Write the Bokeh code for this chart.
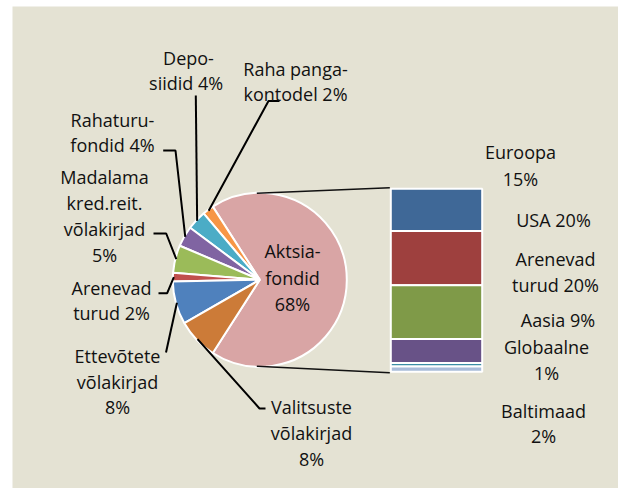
import math
from bokeh.plotting import figure
from bokeh.models import Range1d, ColumnDataSource
from bokeh.core.properties import value
from bokeh.embed import file_html
from bokeh.resources import INLINE

# ---------------- data ----------------
pie_categories = ["Aktsiafondid", "Raha pangakontodel", "Deposiidid", "Rahaturufondid",
                  "Madalama kred.reit. võlakirjad", "Arenevad turud",
                  "Ettevõtete võlakirjad", "Valitsuste võlakirjad"]
pie_values = [68.1, 2.1, 3.6, 3.8, 5.1, 1.6, 8.0, 7.6]
pie_label_lines = [["Aktsia-", "fondid", "68%"],
                   ["Raha panga-", "kontodel 2%"],
                   ["Depo-", "siidid  4%"],
                   ["Rahaturu-", "fondid 4%"],
                   ["Madalama", "kred.reit.", "võlakirjad", "5%"],
                   ["Arenevad", "turud 2%"],
                   ["Ettevõtete", "võlakirjad", "8%"],
                   ["Valitsuste", "võlakirjad", "8%"]]

bar_categories = ["Euroopa", "USA", "Arenevad turud", "Aasia", "Globaalne", "Baltimaad"]
bar_values = [15.4, 19.8, 19.6, 8.8, 1.3, 1.9]
bar_label_lines = [["Euroopa", "15%"], ["USA 20%"], ["Arenevad", "turud 20%"],
                   ["Aasia 9%"], ["Globaalne", "1%"], ["Baltimaad", "2%"]]

# ---------------- styles / layout ----------------
pie_colors = ["#D9A5A5", "#F79646", "#4BACC6", "#8064A2", "#9BBB59", "#C0504D", "#4F81BD", "#CC7B38"]
bar_colors = ["#3F6897", "#9E403E", "#7F9A48", "#685287", "#3B8EA5", "#A9BCD9"]
PANEL = "#E4E2D3"
FONT = value("Open Sans")
FS = "18px"

W, H = 618, 488
def Y(py):  # screen-like y (down) to data y (up)
    return H - py

CX, CYP, R = 259.3, 279.3, 87.0
BAR_L, BAR_R, BAR_T, BAR_B = 389.3, 482.7, 187.3, 372.3

# label positions: (center x, first line center y, line step) in screen px
pie_label_pos = [(292, 250.5, 26.5), (295, 68, 25), (188, 57, 25), (112, 119.5, 25.2),
                 (104, 176.7, 25.8), (111, 287.3, 25.4), (117, 355.5, 25.5), (311, 406, 26)]
bar_label_pos = [(520, 151.7, 26.6), (553, 219.3, 26), (555, 258.3, 26.2),
                 (557.5, 319.7, 26), (546, 346.3, 25.8), (543, 410.3, 25.2)]
# leader-line label-side points (screen px), index matches pie slices (None = no leader)
leader_pts = [None,
              [(279, 100.5), (268, 100.5)],
              [(195.3, 95)],
              [(162.7, 150), (175, 150)],
              [(153, 233), (165.7, 233)],
              [(158, 292.7), (166.7, 292.7)],
              [(165.5, 352)],
              [(265, 408), (259, 408)]]

p = figure(width=W, height=H, x_range=Range1d(0, W), y_range=Range1d(0, H),
           output_backend="svg", toolbar_location=None, min_border=0)
p.axis.visible = False
p.grid.visible = False
p.outline_line_color = None
p.background_fill_color = "white"
p.border_fill_color = "white"

# panel
p.quad(left=[12], right=[W], top=[Y(6)], bottom=[0], fill_color=PANEL, line_color=None)

# ---------------- pie ----------------
total = sum(pie_values)
angs = [v / total * 2 * math.pi for v in pie_values]
starts, ends, mids = [], [], []
a = -angs[0] / 2
for ang in angs:
    starts.append(a)
    ends.append(a + ang)
    mids.append(a + ang / 2)
    a += ang
p.wedge(x=CX, y=Y(CYP), radius=R, start_angle=starts, end_angle=ends, direction="anticlock",
        fill_color=pie_colors, line_color="white", line_width=2)

# ---------------- bar of pie ----------------
btotal = sum(bar_values)
scale = (BAR_B - BAR_T - 2) / btotal
tops, bots = [], []
cur = BAR_T + 1
for v in bar_values:
    tops.append(Y(cur))
    cur += v * scale
    bots.append(Y(cur))
p.quad(left=BAR_L + 1, right=BAR_R - 1, top=tops, bottom=bots, fill_color=bar_colors,
       line_color="white", line_width=2)

# connector lines between pie and bar
p.multi_line(xs=[[CX - 3, BAR_L], [CX - 3, BAR_L]],
             ys=[[Y(CYP - R + 0.5), Y(BAR_T)], [Y(CYP + R - 0.5), Y(BAR_B)]],
             line_color="#111111", line_width=1.6)

# leader lines
lxs, lys = [], []
for i, pts in enumerate(leader_pts):
    if pts is None:
        continue
    ex = CX + (R - 1) * math.cos(mids[i])
    ey = Y(CYP) + (R - 1) * math.sin(mids[i])
    lxs.append([q[0] for q in pts] + [ex])
    lys.append([Y(q[1]) for q in pts] + [ey])
p.multi_line(xs=lxs, ys=lys, line_color="black", line_width=2)

# labels
tx, ty, tt = [], [], []
for lines, (x0, y0, step) in list(zip(pie_label_lines, pie_label_pos)) + list(zip(bar_label_lines, bar_label_pos)):
    for k, s in enumerate(lines):
        tx.append(x0)
        ty.append(Y(y0 + k * step))
        tt.append(s)
src = ColumnDataSource(dict(x=tx, y=ty, text=tt))
p.text(x="x", y="y", text="text", source=src, text_font=FONT, text_font_size=FS,
       text_align="center", text_baseline="middle", text_color="#111111")

open("out.html", "w").write(file_html(p, INLINE))
